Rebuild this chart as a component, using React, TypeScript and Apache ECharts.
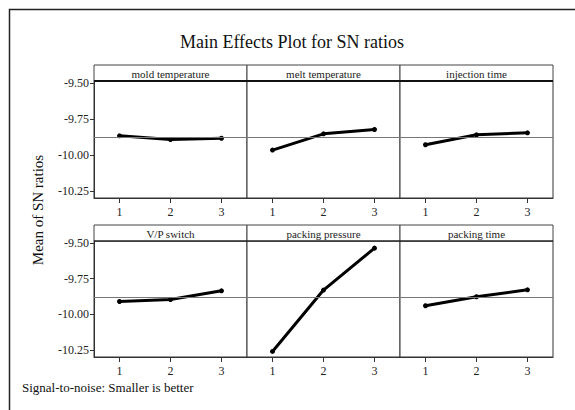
import React, { useEffect, useRef } from "react";
import * as echarts from "echarts";

const levels = ["1", "2", "3"];
const factors = [
  "mold temperature",
  "melt temperature",
  "injection time",
  "V/P switch",
  "packing pressure",
  "packing time",
];
const moldTemperature = [-9.868, -9.894, -9.885];
const meltTemperature = [-9.967, -9.854, -9.824];
const injectionTime = [-9.93, -9.861, -9.847];
const vpSwitch = [-9.911, -9.897, -9.836];
const packingPressure = [-10.261, -9.831, -9.537];
const packingTime = [-9.941, -9.878, -9.829];
const grandMean = -9.879;
const yTickValues = [-9.5, -9.75, -10.0, -10.25];

const seriesValues = [
  moldTemperature,
  meltTemperature,
  injectionTime,
  vpSwitch,
  packingPressure,
  packingTime,
];

const FONT = "Liberation Serif, serif";

export default function App() {
  const ref = useRef<HTMLDivElement>(null);
  useEffect(() => {
    if (!ref.current) return;
    const chart = echarts.init(ref.current, undefined, { renderer: "svg" });
    const lefts = [94, 247, 400];
    const widths = [153, 153, 153];
    const tops = [81, 241];
    const heights = [117, 116];
    const stripTops = [65, 225];

    const grids: any[] = [];
    const xAxes: any[] = [];
    const yAxes: any[] = [];
    const series: any[] = [];
    const graphics: any[] = [];

    for (let i = 0; i < 6; i++) {
      const r = Math.floor(i / 3);
      const c = i % 3;
      grids.push({
        left: lefts[c],
        top: tops[r],
        width: widths[c],
        height: heights[r],
        show: true,
        borderColor: "#333",
        borderWidth: 1,
        backgroundColor: "#fff",
      });
      xAxes.push({
        type: "category",
        gridIndex: i,
        data: levels,
        boundaryGap: true,
        axisLine: { show: true, lineStyle: { color: "#333", width: 1 } },
        axisTick: { show: true, alignWithLabel: true, length: 5, lineStyle: { color: "#333" } },
        axisLabel: { show: true, fontFamily: FONT, fontSize: 12, color: "#222", margin: 8 },
        splitLine: { show: false },
      });
      yAxes.push({
        type: "value",
        gridIndex: i,
        min: -10.3,
        max: -9.487,
        axisLine: { show: c === 0, lineStyle: { color: "#333", width: 1 } },
        axisTick: {
          show: c === 0,
          length: 4,
          customValues: yTickValues,
          lineStyle: { color: "#333" },
        },
        axisLabel: {
          show: c === 0,
          customValues: yTickValues,
          formatter: (v: number) => v.toFixed(2),
          fontFamily: FONT,
          fontSize: 12,
          color: "#222",
          margin: 5,
        },
        splitLine: { show: false },
      });
      series.push({
        type: "line",
        xAxisIndex: i,
        yAxisIndex: i,
        data: seriesValues[i],
        symbol: "circle",
        symbolSize: 5,
        lineStyle: { color: "#000", width: 3 },
        itemStyle: { color: "#000" },
        silent: true,
        markLine: {
          silent: true,
          symbol: "none",
          label: { show: false },
          lineStyle: { color: "#777", width: 1, type: "solid" },
          data: [{ yAxis: grandMean }],
        },
        z: 3,
      });
      // strip header
      graphics.push({
        type: "rect",
        shape: { x: lefts[c], y: stripTops[r], width: widths[c], height: tops[r] - stripTops[r] },
        style: { fill: "#fff", stroke: "#444", lineWidth: 1 },
      });
      graphics.push({
        type: "text",
        x: lefts[c] + widths[c] / 2,
        y: stripTops[r] + (tops[r] - stripTops[r]) / 2 + 1,
        style: {
          text: factors[i],
          fontFamily: FONT,
          fontSize: 11,
          fill: "#222",
          align: "center",
          verticalAlign: "middle",
        },
      });
    }
    // strip bottom lines
    for (let r = 0; r < 2; r++) {
      graphics.push({
        type: "line",
        shape: { x1: lefts[0], y1: tops[r], x2: lefts[2] + widths[2], y2: tops[r] },
        style: { stroke: "#111", lineWidth: r === 0 ? 2 : 1.2 },
        z: 10,
      });
    }
    // outer frame (left and top)
    graphics.push({
      type: "polyline",
      shape: { points: [[9.5, 410], [9.5, 9.5], [575, 9.5]] },
      style: { stroke: "#222", lineWidth: 1.5, fill: null },
    });
    graphics.push({
      type: "text",
      x: 292,
      y: 42,
      style: {
        text: "Main Effects Plot for SN ratios",
        fontFamily: FONT,
        fontSize: 18,
        fill: "#111",
        align: "center",
        verticalAlign: "middle",
      },
    });
    graphics.push({
      type: "text",
      x: 38,
      y: 210,
      rotation: Math.PI / 2,
      style: {
        text: "Mean of SN ratios",
        fontFamily: FONT,
        fontSize: 15,
        fill: "#111",
        align: "center",
        verticalAlign: "middle",
      },
    });
    graphics.push({
      type: "text",
      x: 22,
      y: 387,
      style: {
        text: "Signal-to-noise: Smaller is better",
        fontFamily: FONT,
        fontSize: 13,
        fill: "#111",
        align: "left",
        verticalAlign: "middle",
      },
    });

    chart.setOption({
      animation: false,
      backgroundColor: "#fff",
      grid: grids,
      xAxis: xAxes,
      yAxis: yAxes,
      series,
      graphic: graphics,
    });
    return () => chart.dispose();
  }, []);
  return (
    <div
      ref={ref}
      style={{ position: "absolute", left: 0, top: 0, width: 575, height: 410 }}
    />
  );
}
